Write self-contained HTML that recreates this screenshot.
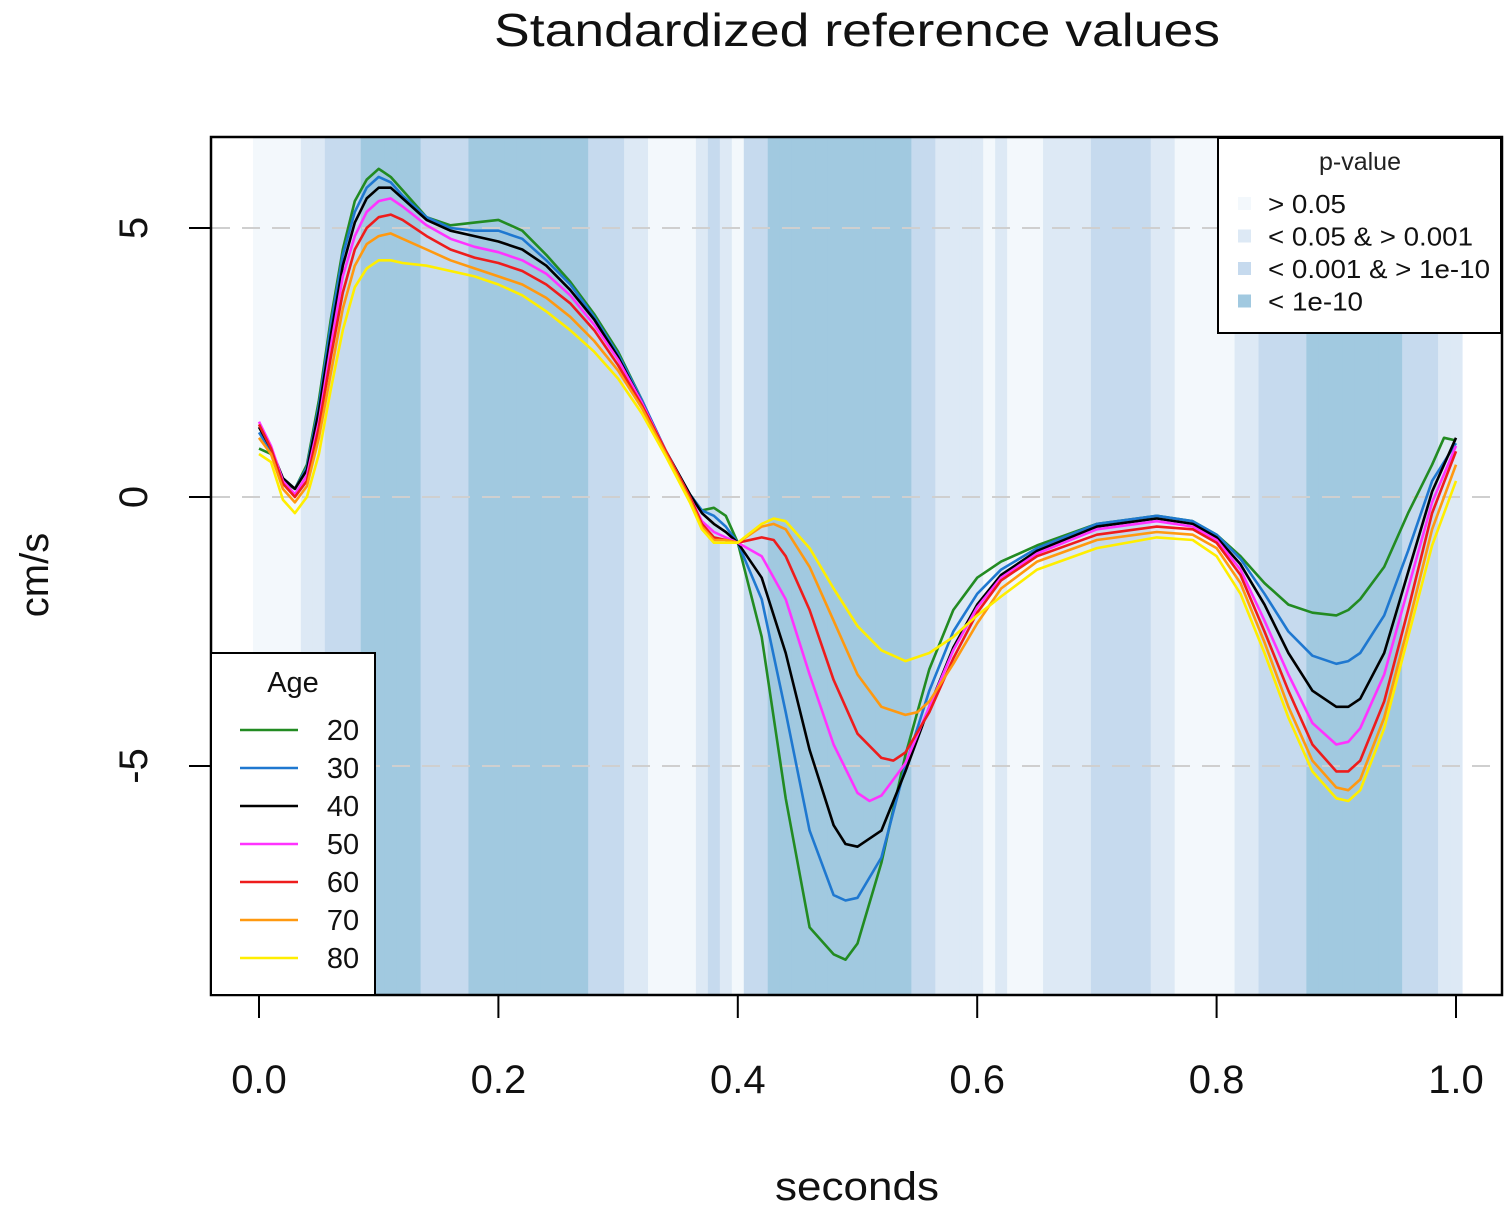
<!DOCTYPE html>
<html><head><meta charset="utf-8"><style>
body{margin:0;background:#fff;}
svg{display:block;font-family:"Liberation Sans","DejaVu Sans",sans-serif;}
</style></head><body>
<svg id="chart" width="1510" height="1208" viewBox="0 0 1510 1208">
<text x="857" y="46" font-size="46" text-anchor="middle" textLength="726" lengthAdjust="spacingAndGlyphs" fill="#111">Standardized reference values</text>
<g id="bands"></g>
<g id="grid"></g>
<g id="series"></g>
<rect x="211" y="137" width="1291" height="858" fill="none" stroke="#000" stroke-width="2.5"/>
<g id="axes"></g>
<text x="857" y="1200" font-size="40" text-anchor="middle" textLength="164" lengthAdjust="spacingAndGlyphs" fill="#111">seconds</text>
<text transform="translate(48,575) rotate(-90)" font-size="40" text-anchor="middle" fill="#111">cm/s</text>
<g id="plegend"></g>
<g id="alegend"></g>
</svg>
<script>
const bandLevels=[0,0,0,0,1,1,2,2,2,3,3,3,3,3,2,2,2,2,3,3,3,3,3,3,3,3,3,3,2,2,2,1,1,0,0,0,0,1,2,1,0,2,2,3,3,3,3,3,3,3,3,3,3,3,3,2,2,1,1,1,1,0,1,0,0,0,1,1,1,1,2,2,2,2,2,1,1,0,0,0,0,0,1,1,2,2,2,2,3,3,3,3,3,3,3,3,2,2,2,1,1];
const bandColors=["#f3f8fc","#dde9f5","#c6daee","#a1c9e0"];
const pLabels=["> 0.05","< 0.05 & > 0.001","< 0.001 & > 1e-10","< 1e-10"];
const pLabelWidths=[78,205,222,95];
const xTicks=[0,0.2,0.4,0.6,0.8,1.0];
const xTickLabels=["0.0","0.2","0.4","0.6","0.8","1.0"];
const yTicks=[5,0,-5];
const yTickLabels=["5","0","-5"];
const ages=["20","30","40","50","60","70","80"];
const ageColors=["#228B22","#1f78d0","#000000","#ff33ff","#ee1c1c","#ff9910","#ffee00"];
const age20X=[0,0.01,0.02,0.03,0.04,0.05,0.06,0.07,0.08,0.09,0.10,0.11,0.12,0.14,0.16,0.18,0.20,0.22,0.24,0.26,0.28,0.30,0.32,0.34,0.36,0.37,0.38,0.39,0.40,0.42,0.44,0.46,0.48,0.49,0.50,0.52,0.54,0.56,0.58,0.60,0.62,0.65,0.70,0.75,0.78,0.80,0.82,0.84,0.86,0.88,0.90,0.91,0.92,0.94,0.96,0.98,0.99,1.00];
const age20Y=[0.9,0.8,0.3,0.15,0.6,1.8,3.3,4.6,5.5,5.9,6.1,5.95,5.7,5.2,5.05,5.1,5.15,4.95,4.5,4.0,3.4,2.7,1.8,0.8,0.0,-0.25,-0.2,-0.35,-0.85,-2.6,-5.6,-8.0,-8.5,-8.6,-8.3,-6.8,-4.8,-3.2,-2.1,-1.5,-1.2,-0.9,-0.5,-0.35,-0.45,-0.7,-1.1,-1.6,-2.0,-2.15,-2.2,-2.1,-1.9,-1.3,-0.3,0.6,1.1,1.05];
const age30X=[0,0.01,0.02,0.03,0.04,0.05,0.06,0.07,0.08,0.09,0.10,0.11,0.12,0.14,0.16,0.18,0.20,0.22,0.24,0.26,0.28,0.30,0.32,0.34,0.36,0.37,0.38,0.39,0.40,0.42,0.44,0.46,0.48,0.49,0.50,0.52,0.54,0.56,0.58,0.60,0.62,0.65,0.70,0.75,0.78,0.80,0.82,0.84,0.86,0.88,0.90,0.91,0.92,0.94,0.96,0.98,1.00];
const age30Y=[1.2,0.85,0.35,0.15,0.55,1.7,3.2,4.5,5.3,5.75,5.95,5.85,5.6,5.2,5.0,4.95,4.95,4.8,4.4,3.95,3.35,2.65,1.8,0.85,0.05,-0.25,-0.35,-0.55,-0.85,-1.9,-4.0,-6.2,-7.4,-7.5,-7.45,-6.7,-5.0,-3.6,-2.5,-1.8,-1.35,-0.95,-0.5,-0.35,-0.45,-0.7,-1.15,-1.8,-2.5,-2.95,-3.1,-3.05,-2.9,-2.2,-1.0,0.3,1.0];
const age40X=[0,0.01,0.02,0.03,0.04,0.05,0.06,0.07,0.08,0.09,0.10,0.11,0.12,0.14,0.16,0.18,0.20,0.22,0.24,0.26,0.28,0.30,0.32,0.34,0.36,0.37,0.38,0.39,0.40,0.42,0.44,0.46,0.48,0.49,0.50,0.52,0.54,0.56,0.58,0.60,0.62,0.65,0.70,0.75,0.78,0.80,0.82,0.84,0.86,0.88,0.90,0.91,0.92,0.94,0.96,0.98,1.00];
const age40Y=[1.3,0.9,0.35,0.15,0.5,1.6,3.0,4.3,5.1,5.55,5.75,5.75,5.55,5.15,4.95,4.85,4.75,4.6,4.3,3.85,3.3,2.6,1.75,0.85,0.05,-0.3,-0.5,-0.65,-0.85,-1.5,-2.9,-4.7,-6.1,-6.45,-6.5,-6.2,-5.1,-3.9,-2.8,-2.0,-1.45,-1.0,-0.55,-0.4,-0.5,-0.75,-1.25,-2.0,-2.9,-3.6,-3.9,-3.9,-3.75,-2.9,-1.4,0.1,1.1];
const age50X=[0,0.01,0.02,0.03,0.04,0.05,0.06,0.07,0.08,0.09,0.10,0.11,0.12,0.14,0.16,0.18,0.20,0.22,0.24,0.26,0.28,0.30,0.32,0.34,0.36,0.37,0.38,0.39,0.40,0.42,0.44,0.46,0.48,0.50,0.51,0.52,0.54,0.56,0.58,0.60,0.62,0.65,0.70,0.75,0.78,0.80,0.82,0.84,0.86,0.88,0.90,0.91,0.92,0.94,0.96,0.98,1.00];
const age50Y=[1.4,0.95,0.3,0.05,0.4,1.4,2.8,4.1,4.85,5.3,5.5,5.55,5.4,5.05,4.8,4.65,4.55,4.4,4.15,3.75,3.2,2.55,1.75,0.85,0.0,-0.45,-0.65,-0.75,-0.85,-1.1,-1.9,-3.3,-4.6,-5.5,-5.65,-5.55,-4.95,-3.9,-2.85,-2.05,-1.5,-1.05,-0.6,-0.45,-0.55,-0.8,-1.35,-2.3,-3.3,-4.2,-4.6,-4.55,-4.3,-3.3,-1.7,-0.1,0.95];
const age60X=[0,0.01,0.02,0.03,0.04,0.05,0.06,0.07,0.08,0.09,0.10,0.11,0.12,0.14,0.16,0.18,0.20,0.22,0.24,0.26,0.28,0.30,0.32,0.34,0.36,0.37,0.38,0.39,0.40,0.42,0.43,0.44,0.46,0.48,0.50,0.52,0.53,0.54,0.56,0.58,0.60,0.62,0.65,0.70,0.75,0.78,0.80,0.82,0.84,0.86,0.88,0.90,0.91,0.92,0.94,0.96,0.98,1.00];
const age60Y=[1.35,0.9,0.25,0.0,0.3,1.3,2.6,3.8,4.6,5.0,5.2,5.25,5.15,4.85,4.6,4.45,4.35,4.2,3.95,3.6,3.1,2.45,1.7,0.85,0.0,-0.5,-0.75,-0.8,-0.85,-0.75,-0.8,-1.1,-2.1,-3.4,-4.4,-4.85,-4.9,-4.75,-4.0,-3.0,-2.15,-1.55,-1.1,-0.7,-0.55,-0.6,-0.85,-1.45,-2.5,-3.6,-4.6,-5.1,-5.1,-4.9,-3.8,-2.1,-0.3,0.85];
const age70X=[0,0.01,0.02,0.03,0.04,0.05,0.06,0.07,0.08,0.09,0.10,0.11,0.12,0.14,0.16,0.18,0.20,0.22,0.24,0.26,0.28,0.30,0.32,0.34,0.36,0.37,0.38,0.39,0.40,0.42,0.43,0.44,0.46,0.48,0.50,0.52,0.54,0.55,0.56,0.58,0.60,0.62,0.65,0.70,0.75,0.78,0.80,0.82,0.84,0.86,0.88,0.90,0.91,0.92,0.94,0.96,0.98,1.00];
const age70Y=[1.1,0.8,0.15,-0.1,0.2,1.1,2.3,3.5,4.3,4.7,4.85,4.9,4.8,4.6,4.4,4.25,4.1,3.95,3.7,3.35,2.9,2.35,1.65,0.8,-0.05,-0.55,-0.8,-0.8,-0.85,-0.55,-0.5,-0.6,-1.3,-2.3,-3.3,-3.9,-4.05,-4.0,-3.8,-3.1,-2.35,-1.7,-1.2,-0.8,-0.65,-0.7,-0.95,-1.6,-2.7,-3.9,-4.9,-5.4,-5.45,-5.25,-4.1,-2.4,-0.6,0.6];
const age80X=[0,0.01,0.02,0.03,0.04,0.05,0.06,0.07,0.08,0.09,0.10,0.11,0.12,0.14,0.16,0.18,0.20,0.22,0.24,0.26,0.28,0.30,0.32,0.34,0.36,0.37,0.38,0.39,0.40,0.42,0.43,0.44,0.46,0.48,0.50,0.52,0.54,0.56,0.58,0.60,0.62,0.65,0.70,0.75,0.78,0.80,0.82,0.84,0.86,0.88,0.90,0.91,0.92,0.94,0.96,0.98,1.00];
const age80Y=[0.8,0.65,-0.05,-0.3,0.0,0.8,2.0,3.1,3.9,4.25,4.4,4.4,4.35,4.3,4.2,4.1,3.95,3.75,3.45,3.1,2.7,2.2,1.55,0.75,-0.1,-0.6,-0.85,-0.85,-0.85,-0.5,-0.4,-0.45,-0.95,-1.7,-2.4,-2.85,-3.05,-2.9,-2.6,-2.2,-1.85,-1.35,-0.95,-0.75,-0.8,-1.1,-1.8,-2.9,-4.1,-5.1,-5.6,-5.65,-5.45,-4.3,-2.6,-0.9,0.3];

const NS="http://www.w3.org/2000/svg";
const X0=259,X1=1456,Y0=497,YU=53.8;
function sx(v){return X0+(X1-X0)*v;}
function sy(v){return Y0-YU*v;}
function mk(tag,attrs,parent){const e=document.createElementNS(NS,tag);for(const k in attrs)e.setAttribute(k,attrs[k]);parent.appendChild(e);return e;}

const bands=document.getElementById('bands');
bandLevels.forEach((lv,i)=>{
  const a=sx(i/100-0.005),b=sx(i/100+0.005);
  const r=mk('rect',{x:a,y:138,width:b-a+0.6,height:856,fill:bandColors[lv]},bands);
  
  
});
const grid=document.getElementById('grid');
yTicks.forEach(v=>{
  const l=mk('line',{x1:212,x2:1501,y1:sy(v),y2:sy(v),stroke:'#cfcfcf','stroke-width':2,'stroke-dasharray':'18,12'},grid);
  
  
});
const series=document.getElementById('series');
const xsArr=[age20X,age30X,age40X,age50X,age60X,age70X,age80X];
const ysArr=[age20Y,age30Y,age40Y,age50Y,age60Y,age70Y,age80Y];
ages.forEach((a,i)=>{
  const pts=xsArr[i].map((x,j)=>sx(x).toFixed(1)+','+sy(ysArr[i][j]).toFixed(1)).join(' ');
  const p=mk('polyline',{points:pts,fill:'none',stroke:ageColors[i],'stroke-width':2.6,'stroke-linejoin':'round'},series);
  
  
});
const axes=document.getElementById('axes');
mk('line',{x1:sx(0),x2:sx(1),y1:995,y2:995,stroke:'#000','stroke-width':2},axes);
xTicks.forEach((v,i)=>{
  const t=mk('line',{x1:sx(v),x2:sx(v),y1:995,y2:1018,stroke:'#000','stroke-width':2},axes);
  
  
  const l=mk('text',{x:sx(v),y:1093,'font-size':40,'text-anchor':'middle',fill:'#111'},axes);
  l.textContent=xTickLabels[i];
  
  
});
yTicks.forEach((v,i)=>{
  const t=mk('line',{x1:189,x2:211,y1:sy(v),y2:sy(v),stroke:'#000','stroke-width':2},axes);
  
  
  const l=mk('text',{transform:'translate(147,'+sy(v)+') rotate(-90)','font-size':40,'text-anchor':'middle',fill:'#111'},axes);
  l.textContent=yTickLabels[i];
  
  
});
const pl=document.getElementById('plegend');
mk('rect',{x:1218,y:138,width:283,height:195,fill:'#fff',stroke:'#000','stroke-width':2},pl);
const pt=mk('text',{x:1360,y:170,'font-size':25,'text-anchor':'middle',fill:'#222'},pl);
pt.textContent='p-value';
pLabels.forEach((s,i)=>{
  const y=204+i*32.5;
  const r=mk('rect',{x:1238,y:y-7,width:13,height:13,fill:bandColors[i]},pl);
  
  
  const t=mk('text',{x:1268,y:y+9,'font-size':26,fill:'#111',textLength:pLabelWidths[i],lengthAdjust:'spacingAndGlyphs'},pl);
  t.textContent=s;
  
  
});
const al=document.getElementById('alegend');
mk('rect',{x:211,y:653,width:164,height:342,fill:'#fff',stroke:'#000','stroke-width':2},al);
const at=mk('text',{x:293,y:692,'font-size':29,'text-anchor':'middle',fill:'#111'},al);
at.textContent='Age';
ages.forEach((a,i)=>{
  const y=730+i*38;
  const l=mk('line',{x1:240,x2:298,y1:y,y2:y,stroke:ageColors[i],'stroke-width':2.6},al);
  
  
  const t=mk('text',{x:343,y:y+10,'font-size':29,'text-anchor':'middle',fill:'#111'},al);
  t.textContent=a;
  
  
});
</script>
</body></html>
